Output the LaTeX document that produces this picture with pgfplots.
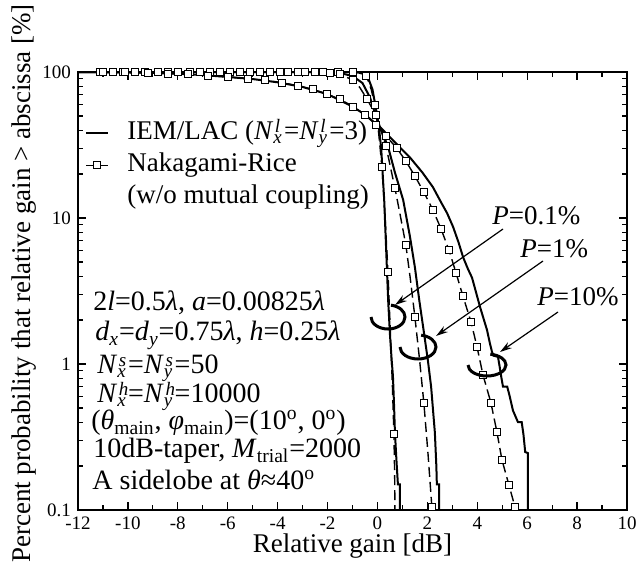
\documentclass[border=0pt]{standalone}
\usepackage{amsmath}
\usepackage{fontspec}
\setmainfont{Liberation Serif}
\usepackage{pgfplots}
\pgfplotsset{compat=1.18}
\usetikzlibrary{arrows.meta}
\newcommand{\fs}[1]{\fontsize{#1}{#1}\selectfont}
\newcommand{\SubSup}[2]{\makebox[5.4pt][l]{\rlap{\raisebox{-2pt}{\fontsize{9.5}{9.5}\selectfont\textit{#1}}}\raisebox{3.5pt}{\kern0.8pt\fontsize{9.5}{9.5}\selectfont\textit{#2}}}}
\pgfplotsset{
 solidc/.style={black, line width=1pt},
 dashc/.style={black, line width=0.7pt, dash pattern=on 5pt off 2.5pt},
 markc/.style={only marks, mark=square*, mark size=1.75pt, mark options={fill=white, draw=black, line width=0.5pt, solid}},
}
\begin{document}
\begin{tikzpicture}
\begin{axis}[
  scale only axis, width=274.5pt, height=219pt,
  xmin=-12, xmax=10, ymin=0.1, ymax=100, ymode=log,
  xtick={-12,-10,...,10}, xticklabels={-12,-10,-8,-6,-4,-2,0,2,4,6,8,10},
  minor x tick num=1,
  ytick={0.1,1,10,100}, yticklabels={0.1,1,10,100},
  tick align=inside,
  major tick length=4pt, minor tick length=2.5pt,
  every tick/.style={black, line width=0.6pt},
  axis line style={line width=1pt},
  tick label style={font=\fs{9.5}},
  xlabel={Relative gain [dB]},
  ylabel={Percent probability that relative gain > abscissa [\%]},
  every axis x label/.style={at={(axis description cs:0.5,0)}, anchor=base, yshift=-21pt, font=\fs{13.5}},
  every axis y label/.style={at={(axis description cs:0,0.5)}, xshift=-23.5pt, yshift=3.75pt, rotate=90, anchor=base, font=\fs{13.5}},
  legend style={at={(axis description cs:0,1)}, anchor=north west, xshift=3.5pt, yshift=-24pt, draw=none, fill=none, font=\fs{13.5}, inner sep=0pt, row sep=3pt, column sep=9pt, nodes={inner sep=0pt, text height=9.5pt, text depth=3.5pt}},
  legend cell align=left,
  legend image code/.code={\draw[mark repeat=2,mark phase=2,#1] plot coordinates {(0pt,0pt)(5.5pt,0pt)(11pt,0pt)};},
]
\addlegendimage{black, line width=1pt}
\addlegendentry{IEM/LAC (\textit{N}\SubSup{x}{l}=\textit{N}\SubSup{y}{l}=3)}
\addlegendimage{black, line width=0.7pt, dash pattern=on 4pt off 3pt, mark=square*, mark size=1.75pt, mark options={fill=white,draw=black,line width=0.5pt,solid}}
\addlegendentry{Nakagami-Rice}
\addlegendimage{empty legend}
\addlegendentry{(w/o mutual coupling)}

% Dashed (Nakagami-Rice) lines
\addplot[dashc, forget plot] coordinates {(-12,99.99) (-1.0,99.9) (-0.7,98.5) (-0.5,95.4) (-0.38,88) (-0.25,76) (-0.1,59) (0.05,38) (0.18,22.3) (0.3,10.5) (0.42,4.3) (0.52,1.6) (0.6,0.7) (0.66,0.33) (0.69,0.17) (0.7,0.1)};
\addplot[dashc, forget plot] coordinates {(-12,99.99) (-3,99.9) (-2,99.3) (-1.5,96.5) (-0.98,88) (-0.7,78) (-0.42,65.3) (-0.06,50.7) (0.34,31.2) (0.7,16) (0.92,10.3) (1.14,6.5) (1.32,3.8) (1.5,2.1) (1.68,1.1) (1.86,0.54) (2.02,0.25) (2.18,0.105) (2.2,0.1)};
\addplot[dashc, forget plot] coordinates {(-12,99.8) (-11.0,99.7) (-10.1,99.3) (-9.2,98.6) (-8.4,97.6) (-7.6,96.3) (-6.8,94.6) (-6.0,92.5) (-5.2,90) (-4.5,87.5) (-3.83,84.5) (-3.19,80.5) (-2.59,76) (-2.02,70.5) (-1.5,65) (-0.98,58) (-0.5,51) (-0.06,43.5) (0.34,36.5) (0.78,30) (1.14,24.5) (1.5,19.4) (1.86,15) (2.22,11.4) (2.55,8.4) (2.87,6.0) (3.15,4.2) (3.43,2.9) (3.75,1.94) (3.99,1.31) (4.23,0.84) (4.55,0.54) (4.79,0.34) (4.99,0.22) (5.27,0.148) (5.51,0.105) (5.55,0.1)};

% Solid (IEM/LAC) lines
\addplot[solidc, forget plot] coordinates {(-12,100) (-1.2,99.95) (-0.8,99.5) (-0.55,97) (-0.35,89) (-0.2,76) (-0.05,55) (0.05,43) (0.15,30) (0.27,13.3) (0.35,6.0) (0.43,2.7) (0.5,1.6) (0.57,1.06) (0.62,0.83) (0.66,0.55) (0.7,0.34) (0.76,0.22) (0.8,0.17) (0.82,0.15) (0.9,0.15) (0.9,0.1)};
\addplot[solidc, forget plot] coordinates {(-12,100) (-2.5,99.95) (-2,99.6) (-1.5,98.3) (-1,94) (-0.6,84) (-0.3,67) (-0.05,49) (0.15,40) (0.42,31) (0.7,20.5) (1.03,13.3) (1.3,7.5) (1.5,4.6) (1.68,2.7) (1.85,1.7) (2.02,1.06) (2.15,0.7) (2.3,0.34) (2.36,0.2) (2.38,0.15) (2.47,0.15) (2.47,0.1)};
\addplot[solidc, forget plot] coordinates {(-12,99.85) (-10,99.3) (-9,98.5) (-8,97.3) (-7,95.3) (-6,92.5) (-5,89.5) (-4,85) (-3,79) (-2,70.5) (-1,58) (-0.5,51) (0.1,42) (0.7,33) (1.3,26) (1.8,20.5) (2.22,16.3) (2.55,12.8) (2.79,10.8) (3.03,8.7) (3.25,6.8) (3.43,5.4) (3.62,4.5) (3.79,3.9) (3.95,3.1) (4.11,2.46) (4.25,2.05) (4.39,1.71) (4.5,1.4) (4.59,1.21) (4.65,1.14) (4.83,1.12) (4.9,0.95) (4.97,0.8) (5.03,0.70) (5.2,0.70) (5.3,0.6) (5.43,0.48) (5.55,0.43) (5.63,0.40) (5.78,0.40) (5.85,0.33) (5.92,0.25) (6.03,0.245) (6.03,0.1)};

% Marks (Nakagami-Rice)
\addplot[markc, forget plot] coordinates {(-11.1,100) (-10.2,100) (-9.3,100) (-8.4,100) (-7.5,100) (-6.7,100) (-5.9,100) (-5.1,100) (-4.3,100) (-3.6,100) (-2.9,100) (-2.2,100) (-1.6,99.9) (-1.0,99.8) (-0.45,94) (-0.1,59) (0.18,22.3) (0.42,4.3) (0.66,0.33)};
\addplot[markc, forget plot] coordinates {(-10.6,100) (-9.7,100) (-8.8,100) (-8.0,100) (-7.1,100) (-6.3,100) (-5.5,100) (-4.7,100) (-3.9,100) (-3.2,100) (-2.5,99.9) (-1.9,99.0) (-1.5,96.5) (-0.98,88) (-0.42,65.3) (-0.06,50.7) (0.34,31.2) (0.7,16) (1.14,6.5) (1.5,2.1) (1.86,0.54) (2.18,0.105)};
\addplot[markc, forget plot] coordinates {(-11.0,99.7) (-10.1,99.3) (-9.2,98.6) (-8.4,97.6) (-7.6,96.3) (-6.8,94.6) (-6.0,92.5) (-5.2,90) (-4.5,87.5) (-3.83,84.5) (-3.19,80.5) (-2.59,76) (-2.02,70.5) (-1.5,65) (-0.98,58) (-0.5,51) (-0.06,43.5) (0.34,36.5) (0.78,30) (1.14,24.5) (1.5,19.4) (1.86,15) (2.22,11.4) (2.55,8.4) (2.87,6.0) (3.15,4.2) (3.43,2.9) (3.75,1.94) (3.99,1.31) (4.23,0.84) (4.55,0.54) (4.79,0.34) (4.99,0.22) (5.27,0.148) (5.51,0.105)};

\coordinate (SW) at (rel axis cs:0,0);
\end{axis}
\pgfresetboundingbox
\path[use as bounding box] ([shift={(-39pt,-28.5pt)}]SW) rectangle ([shift={(279pt,255pt)}]SW);
\begin{scope}[shift={(SW)}]
\begin{scope}[every node/.style={anchor=base west, inner sep=0pt, font=\fs{14}}]
\node at (7.5pt,99.5pt) {2\textit{l}=0.5\textit{λ}, \textit{a}=0.00825\textit{λ}};
\node at (8.5pt,84.5pt) {\textit{d}$_{\textit{x}}$=\textit{d}$_{\textit{y}}$=0.75\textit{λ}, \textit{h}=0.25\textit{λ}};
\node at (9.5pt,68pt) {\textit{N}\SubSup{x}{s}=\textit{N}\SubSup{y}{s}=50};
\node at (9.5pt,53.5pt) {\textit{N}\SubSup{x}{h}=\textit{N}\SubSup{y}{h}=10000};
\node at (6.5pt,40pt) {(\textit{θ}$_{\textrm{main}}$, \textit{φ}$_{\textrm{main}}$)=(10\textsuperscript{o}, 0\textsuperscript{o})};
\node at (7.5pt,26pt) {10dB-taper, \textit{M}$_{\textrm{trial}}$=2000};
\node at (7pt,10pt) {A sidelobe at \textit{θ}≈40\textsuperscript{o}};
\end{scope}
\begin{scope}[every node/.style={anchor=base west, inner sep=0pt, font=\fs{13.5}}]
\node at (207pt,142.5pt) {\textit{P}=0.1\%};
\node at (221pt,126pt) {\textit{P}=1\%};
\node at (229.5pt,102pt) {\textit{P}=10\%};
\end{scope}
\draw[line width=0.6pt, -{Stealth[length=6pt,width=3.5pt]}] (212.5pt,140.5pt) -- (158.5pt,102.5pt);
\draw[line width=0.6pt, -{Stealth[length=6pt,width=3.5pt]}] (232.5pt,124.5pt) -- (179pt,87pt);
\draw[line width=0.6pt, -{Stealth[length=6pt,width=3.5pt]}] (240pt,99pt) -- (211pt,79pt);
\draw[line width=1.5pt] (155pt,96.5pt) ++(180:8.5pt and 6pt) arc[start angle=180, end angle=440, x radius=8.5pt, y radius=6pt];
\draw[line width=1.5pt] (170pt,81.5pt) ++(180:9pt and 6pt) arc[start angle=180, end angle=440, x radius=9pt, y radius=6pt];
\draw[line width=1.5pt] (204.5pt,72.5pt) ++(180:9.5pt and 5.5pt) arc[start angle=180, end angle=440, x radius=9.5pt, y radius=5.5pt];
\end{scope}
\end{tikzpicture}
\end{document}
